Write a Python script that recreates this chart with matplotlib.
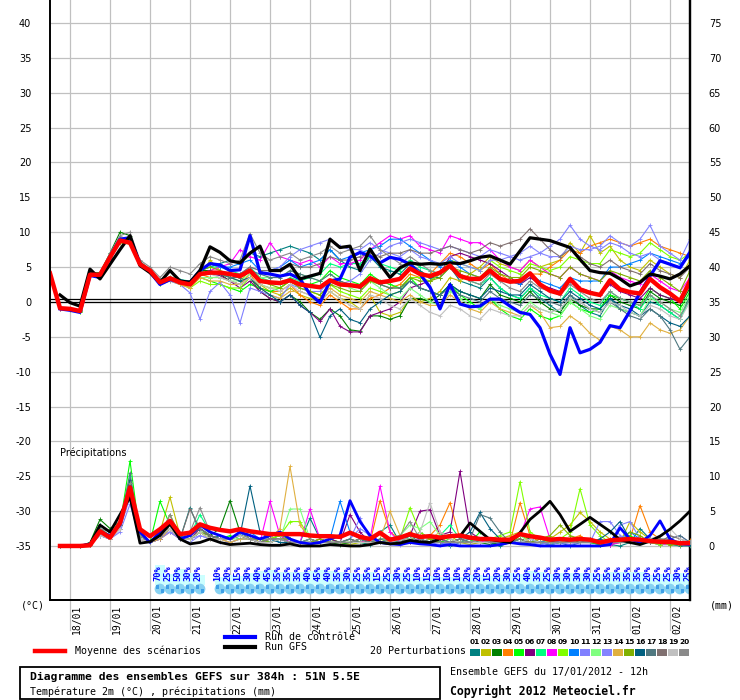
import matplotlib
matplotlib.use('Agg')
import matplotlib.pyplot as plt
from matplotlib.lines import Line2D
from matplotlib.patches import Rectangle
import matplotlib.transforms as mtransforms

nan = float('nan')
W, H = 740, 700

# ---------------- data ----------------
hours = list(range(0, 385, 6))                      # 65 forecast steps (6h)
day_hours = [12 + 24 * k for k in range(16)]        # 00h of each day
day_labels = ['18/01', '19/01', '20/01', '21/01', '22/01', '23/01', '24/01', '25/01',
              '26/01', '27/01', '28/01', '29/01', '30/01', '31/01', '01/02', '02/02']
temp_ticks = [-35, -30, -25, -20, -15, -10, -5, 0, 5, 10, 15, 20, 25, 30, 35, 40]
temp_tick_labels = ['-35', '-30', '-25', '-20', '-15', '-10', '-5', '0', '5', '10',
                    '15', '20', '25', '30', '35', '40']
prcp_ticks = [0, 5, 10, 15, 20, 25, 30, 35, 40, 45, 50, 55, 60, 65, 70, 75]
prcp_tick_labels = ['0', '5', '10', '15', '20', '25', '30', '35', '40', '45',
                    '50', '55', '60', '65', '70', '75']

mean_temp = [4.1, -0.9, -1.0, -1.3, 3.9, 3.9, 6.4, 8.8, 8.5, 5.4,
             4.5, 2.8, 3.4, 2.8, 2.5, 4.0, 4.2, 4.2, 4.0, 3.7,
             4.5, 3.0, 2.8, 2.7, 3.1, 2.5, 2.3, 2.1, 3.1, 2.5,
             2.4, 2.2, 3.4, 2.8, 3.0, 3.3, 4.8, 4.0, 3.7, 4.2,
             5.2, 3.7, 3.3, 3.3, 4.5, 3.3, 2.9, 3.0, 4.1, 2.5,
             1.6, 1.2, 3.3, 1.8, 1.3, 1.0, 3.1, 1.8, 1.4, 1.2,
             3.3, 2.1, 1.2, 0.1, 3.0]
gfs_temp = [nan, 1.0, -0.1, -0.6, 4.7, 3.3, 5.4, 7.5, 9.5, 5.2,
            4.2, 2.8, 4.5, 3.0, 2.8, 4.5, 7.9, 7.1, 5.9, 5.6,
            7.0, 8.0, 4.5, 4.5, 5.4, 3.3, 3.7, 4.1, 9.0, 7.8,
            8.0, 4.5, 7.6, 5.4, 3.5, 4.9, 5.6, 5.4, 5.5, 5.4,
            5.6, 5.5, 5.9, 6.4, 6.6, 6.0, 5.4, 7.3, 9.2, 9.0,
            8.8, 8.3, 7.8, 6.1, 4.5, 4.2, 4.1, 3.3, 2.3, 2.8,
            4.0, 3.7, 3.3, 4.0, 5.2]
ctrl_temp = [nan, -1.0, -1.2, -1.5, 3.8, 3.5, 6.5, 9.0, 9.2, 5.5,
             4.3, 2.5, 3.2, 3.0, 2.8, 4.5, 5.5, 5.3, 4.5, 4.6,
             9.5, 4.2, 4.0, 3.7, 4.0, 3.3, 1.1, -0.1, 3.0, 3.3,
             6.4, 7.1, 6.6, 5.6, 6.4, 6.1, 5.4, 4.0, 2.1, -1.0,
             2.5, -0.3, -0.7, -0.6, 0.4, 0.4, -0.6, -1.5, -1.8, -3.7,
             -7.5, -10.4, -3.7, -7.3, -6.8, -5.8, -3.4, -3.7, -1.3, 1.3,
             3.7, 5.9, 5.4, 4.9, 7.1]

m01_t = [nan, -0.8, -1.0, -1.2, 4.0, 4.0, 6.5, 9.0, 9.0, 5.5, 4.5, 3.0, 3.5, 3.0, 3.0, 4.5, 5.0,
         5.5, 6.0, 5.5, 7.0, 6.5, 7.0, 7.5, 8.0, 7.5, 7.0, 6.0, 7.5, 6.0, 5.0, 4.5, 6.5,
         5.0, 4.5, 4.0, 5.5, 4.5, 3.5, 3.5, 5.0, 3.0, 2.5, 2.0, 3.5, 2.0, 1.0, 0.5, 2.0,
         0.5, -0.5, -1.5, 1.0, -0.5, -1.5, -2.0, 0.5, -1.0, -1.5, -2.0, 0.0, -0.5, -1.5, -2.5, 1.0]
m02_t = [nan, -1.0, -1.1, -1.4, 3.8, 3.8, 6.2, 8.5, 8.3, 5.3, 4.3, 2.5, 3.0, 2.5, 2.0, 3.5, 6.0,
         4.5, 3.5, 3.0, 4.5, 2.5, 1.5, 1.0, 2.0, 1.0, 0.5, 0.0, 1.5, 0.5, 0.0, -1.0, 1.0,
         -1.5, -2.0, -1.5, 0.5, 0.0, 0.5, 1.5, 3.5, 3.0, 4.0, 5.0, 6.5, 5.5, 5.0, 4.5, 6.0,
         5.0, 5.5, 6.0, 8.5, 7.0, 9.5, 7.0, 8.0, 6.0, 5.0, 4.5, 6.0, 5.0, 4.0, 3.5, 6.0]
m03_t = [nan, -0.9, -1.0, -1.3, 4.2, 4.2, 7.0, 10.0, 9.5, 5.8, 4.6, 3.0, 3.5, 3.0, 2.5, 4.5, 4.5,
         4.0, 3.0, 2.5, 3.5, 1.5, 0.5, 0.0, 1.0, 0.0, -1.5, -2.5, -1.0, -2.0, -4.0, -4.2, -2.0,
         -2.0, -2.5, -2.0, 0.5, 0.5, 0.0, 1.0, 2.5, 1.5, 1.0, 0.5, 2.5, 1.0, 0.5, 0.0, 1.5,
         0.0, -1.0, -1.5, 0.5, -0.5, -1.0, -1.0, 1.0, 0.0, -0.5, -1.0, 1.5, 0.5, 0.0, -0.5, 2.0]
m04_t = [nan, -0.9, -0.9, -1.2, 3.9, 3.9, 6.3, 8.7, 8.6, 5.4, 4.5, 2.8, 3.6, 3.0, 2.5, 4.0, 3.5,
         3.5, 3.0, 2.5, 4.0, 2.0, 1.5, 1.5, 2.5, 1.0, 0.0, -0.5, 1.0, 0.0, -1.0, -1.0, 0.5,
         1.0, 2.0, 2.5, 4.0, 3.5, 4.0, 5.5, 7.0, 6.5, 5.5, 4.5, 5.5, 4.0, 3.0, 2.5, 4.0,
         4.0, 5.0, 6.0, 7.5, 7.0, 8.0, 8.5, 9.0, 8.5, 8.0, 8.5, 9.0, 8.0, 7.5, 7.0, 6.5]
m05_t = [nan, -1.0, -1.0, -1.4, 4.0, 4.0, 6.5, 9.0, 8.8, 5.5, 4.4, 2.6, 3.2, 2.6, 2.4, 3.5, 3.0,
         2.5, 2.0, 1.5, 2.5, 2.0, 1.5, 2.0, 3.0, 2.5, 2.5, 3.0, 4.5, 3.5, 3.0, 2.5, 4.0,
         3.0, 2.5, 2.0, 3.5, 2.0, 1.5, 1.0, 2.5, 1.0, 0.0, -1.0, 0.5, -1.0, -2.0, -2.5, -1.0,
         -2.0, -2.5, -2.0, 0.0, -1.0, -1.5, -1.0, 1.0, 0.5, 0.0, -0.5, 2.0, 1.0, 0.5, -1.0, 1.5]
m06_t = [nan, -0.9, -1.0, -1.3, 3.8, 3.8, 6.2, 8.6, 8.4, 5.3, 4.4, 2.7, 3.3, 2.8, 2.6, 4.0, 4.0,
         3.8, 3.0, 2.0, 3.0, 1.5, 0.5, 0.0, 1.0, -0.5, -1.5, -2.8, -1.0, -3.5, -4.3, -4.3, -2.0,
         -1.5, -1.0, 0.0, 2.0, 2.5, 3.0, 4.0, 6.5, 7.0, 6.5, 6.0, 5.5, 4.5, 3.5, 2.5, 3.5,
         2.5, 2.0, 1.5, 3.0, 2.0, 1.5, 1.0, 2.5, 1.5, 1.0, 0.5, 2.0, 1.0, 0.5, 0.0, 2.5]
m07_t = [nan, -0.8, -1.0, -1.2, 4.1, 4.1, 6.6, 9.2, 8.9, 5.5, 4.5, 2.9, 3.6, 3.2, 3.0, 4.5, 5.0,
         5.0, 4.5, 4.0, 5.0, 3.5, 3.0, 2.5, 3.5, 3.0, 3.5, 4.0, 5.5, 5.0, 5.5, 5.5, 6.5,
         5.5, 5.0, 4.5, 6.0, 5.0, 4.5, 4.0, 5.5, 4.0, 3.0, 2.5, 3.5, 2.0, 1.0, 0.5, 2.0,
         1.0, 0.5, 0.0, 2.0, 1.0, 0.0, -0.5, 1.5, 0.5, 0.0, -1.0, 1.0, -0.5, -1.5, -2.5, 0.5]
m08_t = [nan, -1.0, -1.0, -1.3, 3.9, 3.9, 6.4, 8.8, 8.6, 5.4, 4.5, 2.8, 3.4, 2.8, 2.5, 4.0, 4.5,
         5.0, 5.5, 7.5, 6.5, 6.0, 8.5, 6.5, 6.0, 5.5, 6.0, 5.0, 6.5, 5.5, 5.5, 6.0, 7.5,
         8.5, 9.5, 9.0, 9.5, 8.0, 7.5, 7.0, 9.5, 9.0, 8.5, 8.5, 7.5, 6.0, 5.0, 4.5, 6.0,
         5.0, 4.0, 3.5, 5.0, 4.0, 3.5, 3.0, 4.5, 3.5, 3.0, 2.5, 4.0, 3.0, 2.0, 1.5, 3.5]
m09_t = [nan, -0.9, -1.0, -1.3, 3.9, 3.9, 6.5, 9.0, 8.7, 5.4, 4.5, 2.8, 3.4, 2.8, 2.0, 3.0, 2.5,
         2.5, 2.0, 2.0, 3.5, 2.5, 2.0, 2.0, 3.0, 2.0, 1.5, 1.0, 2.5, 1.5, 1.0, 0.5, 2.0,
         1.5, 1.0, 1.5, 3.5, 3.5, 3.0, 4.0, 6.0, 5.5, 5.0, 4.5, 6.0, 5.0, 4.5, 4.0, 5.5,
         5.0, 4.5, 5.0, 6.5, 6.0, 5.5, 5.5, 7.5, 7.0, 6.5, 7.0, 8.5, 7.5, 6.5, 6.0, 7.0]
m10_t = [nan, -0.9, -1.0, -1.3, 3.9, 3.9, 6.4, 8.8, 8.5, 5.4, 4.5, 2.8, 3.4, 2.8, 2.8, 4.5, 5.5,
         5.0, 5.0, 5.5, 6.0, 4.5, 4.5, 5.0, 6.0, 5.0, 5.5, 6.0, 7.5, 6.0, 6.5, 7.0, 7.5,
         8.0, 9.0, 9.0, 8.0, 7.0, 6.0, 5.0, 6.0, 5.0, 4.0, 3.5, 4.5, 3.5, 3.0, 2.5, 4.0,
         3.0, 2.5, 2.0, 3.5, 3.0, 3.0, 3.0, 5.0, 5.0, 5.5, 6.0, 7.0, 6.5, 6.0, 5.5, 6.5]
m11_t = [nan, -0.9, -1.0, -1.3, 3.9, 3.9, 6.3, 8.8, 8.5, 5.3, 4.4, 2.7, 3.0, 2.5, 1.3, -2.5, 1.5,
         2.8, 1.0, -3.0, 2.0, 1.5, 1.0, 0.5, 2.5, 2.0, 1.5, 1.5, 3.0, 2.5, 3.0, 4.0, 6.0,
         7.0, 8.0, 8.5, 9.0, 8.5, 8.0, 7.5, 8.0, 7.5, 7.0, 6.5, 7.5, 7.0, 6.5, 6.0, 6.5,
         7.0, 8.0, 9.0, 11.0, 9.0, 8.0, 7.5, 8.5, 8.0, 7.0, 6.5, 7.0, 6.0, 5.5, 5.0, 7.5]
m12_t = [nan, -0.9, -1.0, -1.3, 3.9, 3.9, 6.4, 8.8, 8.5, 5.4, 4.5, 2.8, 3.4, 2.8, 2.5, 3.5, 3.5,
         3.5, 3.0, 3.0, 4.0, 3.5, 3.5, 3.5, 4.5, 4.0, 3.5, 3.0, 4.0, 3.0, 2.0, 1.5, 3.0,
         2.0, 1.0, 0.5, 2.0, 1.0, 0.0, -0.5, 1.5, 0.5, -0.5, -1.0, 0.5, -0.5, -1.0, -1.5, 0.0,
         -1.0, -1.5, -2.0, 0.0, -1.0, -2.0, -2.5, -0.5, -1.0, -1.5, -2.0, 0.5, 0.0, -1.0, -1.5, 1.0]
m13_t = [nan, -0.9, -1.0, -1.3, 3.9, 3.9, 6.4, 8.8, 8.5, 5.4, 4.5, 2.8, 3.4, 2.8, 2.5, 4.0, 4.2,
         4.2, 4.0, 4.0, 5.0, 4.5, 4.5, 5.0, 6.5, 7.5, 8.0, 8.5, 9.0, 8.0, 7.5, 7.5, 8.5,
         7.5, 7.0, 6.5, 7.5, 6.5, 6.0, 5.5, 6.5, 5.5, 5.0, 4.5, 6.0, 6.0, 6.5, 7.0, 8.0,
         7.0, 6.5, 6.5, 8.0, 7.5, 7.5, 8.0, 9.5, 8.5, 8.0, 9.0, 11.0, 8.0, 7.0, 6.0, 9.0]
m14_t = [nan, -0.9, -1.0, -1.3, 3.9, 3.9, 6.4, 8.8, 8.5, 5.4, 4.5, 2.8, 3.2, 2.5, 2.0, 3.5, 3.0,
         3.0, 2.5, 2.5, 3.5, 2.0, 1.0, 0.5, 1.5, 1.5, 1.0, 0.5, 2.0, 1.0, 0.5, 0.0, 1.5,
         1.0, 0.5, 0.0, 1.0, 0.0, -0.5, -0.5, 1.0, 0.0, -1.0, -1.5, 0.0, -1.0, -1.5, -2.0, -0.5,
         -1.5, -3.7, -3.5, -2.0, -3.0, -4.5, -5.5, -3.5, -4.0, -5.0, -5.0, -3.0, -4.0, -4.5, -4.0, -2.0]
m15_t = [nan, -0.9, -1.0, -1.3, 3.9, 3.9, 6.4, 8.8, 8.5, 5.4, 4.5, 2.8, 3.4, 3.0, 3.0, 4.5, 5.0,
         4.5, 4.0, 3.5, 4.5, 3.0, 2.5, 2.0, 3.0, 2.0, 1.5, 1.0, 2.5, 2.0, 1.5, 1.5, 3.0,
         2.5, 2.0, 2.0, 3.5, 3.0, 3.0, 3.5, 5.0, 4.5, 4.0, 3.5, 5.0, 4.0, 3.5, 3.5, 5.0,
         4.5, 4.0, 3.5, 5.0, 4.0, 3.5, 3.0, 4.5, 4.0, 3.5, 3.0, 4.5, 3.5, 2.5, 1.5, 4.5]
m16_t = [nan, -0.9, -1.0, -1.3, 3.9, 3.9, 6.4, 8.8, 8.5, 5.4, 4.5, 2.8, 3.4, 2.8, 2.5, 4.0, 4.5,
         4.0, 3.5, 3.0, 3.5, 2.0, 1.0, 0.0, 1.0, -0.5, -1.5, -5.1, -2.0, -1.0, -2.5, -3.0, -1.0,
         0.0, 1.0, 1.5, 3.0, 2.0, 1.5, 1.0, 2.5, 1.5, 1.0, 0.5, 2.0, 1.5, 1.0, 1.0, 2.5,
         1.5, 0.5, 0.0, 1.5, 0.5, -0.5, -1.0, 0.5, -0.5, -1.0, -2.0, -1.0, -2.0, -3.0, -3.5, -2.0]
m17_t = [nan, -0.9, -1.0, -1.3, 3.9, 3.9, 6.4, 8.8, 8.5, 5.4, 4.5, 2.8, 3.4, 2.8, 2.5, 4.0, 4.0,
         4.0, 3.5, 3.5, 4.5, 4.0, 3.5, 3.5, 4.5, 4.0, 3.5, 3.0, 4.0, 3.0, 2.5, 2.0, 3.5,
         2.5, 2.0, 2.0, 3.0, 2.0, 1.5, 1.0, 2.0, 1.0, 0.5, 0.0, 1.5, 0.5, 0.0, -0.5, 1.0,
         0.5, 0.0, -0.5, 1.0, 0.0, -1.0, -1.5, 0.0, -1.0, -2.0, -2.5, -1.0, -2.0, -4.0, -6.8, -5.0]
m18_t = [nan, -0.9, -1.0, -1.3, 3.9, 3.9, 6.4, 8.8, 8.5, 5.4, 4.5, 2.8, 3.4, 2.8, 2.5, 4.0, 4.0,
         4.0, 4.0, 4.0, 5.0, 4.5, 4.5, 4.5, 5.5, 5.0, 5.0, 5.5, 6.5, 6.0, 6.0, 6.5, 7.0,
         6.5, 7.0, 7.0, 7.5, 7.0, 7.0, 7.5, 8.0, 7.5, 7.0, 7.5, 8.5, 8.0, 8.5, 9.0, 10.5,
         9.0, 7.5, 6.5, 7.5, 6.5, 5.5, 5.0, 6.0, 5.0, 4.5, 4.0, 5.5, 4.5, 4.0, 3.5, 5.0]
m19_t = [nan, -0.9, -1.0, -1.3, 3.9, 3.9, 6.4, 9.0, 9.0, 5.6, 4.6, 3.0, 3.6, 3.0, 2.5, 4.0, 4.0,
         3.5, 3.0, 2.5, 3.5, 2.5, 2.0, 1.5, 2.5, 1.5, 1.0, 0.0, 1.5, 0.5, -0.5, -1.0, 1.0,
         0.5, -0.5, -1.0, 0.5, -0.5, -1.5, -2.0, -0.5, -1.0, -2.0, -2.5, -1.0, -1.5, -2.0, -2.0, -0.5,
         -1.0, -1.5, -1.0, 0.5, 0.0, -1.0, -1.5, 0.0, -0.5, -1.5, -2.0, -0.5, -1.0, -2.0, -2.5, 0.0]
m20_t = [nan, -0.9, -1.0, -1.3, 3.9, 4.0, 7.0, 9.5, 10.0, 6.0, 5.0, 3.5, 5.0, 4.5, 4.0, 5.5, 6.5,
         6.0, 5.5, 6.0, 9.8, 7.0, 6.0, 6.5, 7.0, 6.0, 6.5, 7.0, 8.0, 7.0, 7.5, 8.0, 9.5,
         7.5, 6.5, 5.5, 6.5, 5.5, 4.5, 4.0, 5.0, 4.0, 3.0, 2.5, 4.0, 3.0, 2.0, 1.5, 3.0,
         2.0, 1.5, 1.0, 2.5, 1.5, 0.5, 0.0, 1.5, 0.5, 0.0, -0.5, 1.0, 0.0, -1.0, -2.0, 0.5]

mean_prcp = [nan, 0, 0, 0, 0.1, 2.1, 1.2, 3.3, 8.4, 2.4, 1.4, 2.4, 3.6, 1.7, 1.9, 3.1, 2.6,
             2.3, 2.1, 2.4, 2.1, 1.9, 1.7, 1.7, 1.7, 1.7, 1.5, 1.4, 1.4, 1.3, 1.9, 1.3, 1.0,
             1.9, 0.9, 1.2, 1.7, 1.3, 1.4, 1.2, 1.4, 1.5, 1.2, 1.0, 1.0, 0.9, 0.9, 1.7, 1.4,
             1.2, 0.9, 1.0, 0.9, 1.0, 0.9, 0.5, 0.8, 0.9, 1.0, 0.9, 0.7, 0.6, 0.6, 0.4, 0.4]
gfs_prcp = [nan, 0, 0, 0, 0.2, 3.0, 2.0, 4.5, 7.0, 0.4, 0.6, 1.5, 3.2, 1.0, 0.3, 0.5, 1.0,
            0.5, 0.2, 0.3, 0.4, 0.2, 0.1, 0.1, 0.3, 0.0, 0.0, 0.0, 0.2, 0.1, 0.0, 0.0, 0.2,
            0.5, 0.3, 0.4, 0.8, 0.6, 0.5, 1.0, 1.5, 1.4, 3.3, 2.1, 0.9, 0.7, 0.5, 1.9, 3.8,
            5.0, 6.4, 4.5, 2.1, 3.1, 4.1, 3.1, 2.1, 0.9, 0.5, 0.2, 0.7, 1.4, 2.4, 3.6, 5.0]
ctrl_prcp = [nan, 0, 0, 0, 0.3, 2.0, 1.5, 3.0, 8.5, 2.0, 0.5, 2.0, 3.5, 1.0, 1.5, 3.0, 2.0,
             1.5, 1.0, 2.0, 1.5, 1.0, 1.5, 2.0, 1.0, 0.5, 0.3, 0.5, 1.0, 1.5, 6.5, 3.5, 1.5,
             0.5, 0.3, 0.2, 0.5, 0.3, 0.2, 0.0, 0.2, 0.0, 0.0, 0.0, 0.0, 0.2, 0.5, 0.3, 0.2,
             0.0, 0.0, 0.0, 0.0, 0.0, 0.0, 0.0, 0.2, 2.6, 1.0, 0.5, 1.5, 3.6, 1.0, 0.3, 0.2]

m01_p = [nan, 0, 0, 0, 0.3, 2.5, 1.5, 3.5, 9.0, 1.5, 0.5, 1.0, 2.5, 1.0, 5.5, 2.0, 1.0,
         1.5, 1.0, 2.0, 1.0, 0.5, 1.0, 1.5, 0.5, 0.5, 4.0, 1.0, 0.5, 0.5, 1.0, 0.5, 0.2,
         2.0, 3.0, 0.5, 0.5, 1.0, 1.5, 0.5, 0.0, 0.5, 1.0, 0.5, 0.5, 0.0, 0.5, 1.0, 0.5,
         0.5, 1.0, 0.5, 0.0, 0.5, 0.5, 1.0, 0.2, 0.0, 0.5, 2.5, 1.0, 0.5, 0.2, 0.0, 0.0]
m02_p = [nan, 0, 0, 0, 0.2, 1.5, 1.0, 2.5, 7.5, 1.0, 0.5, 2.0, 7.0, 1.5, 1.0, 2.0, 1.5,
         1.0, 0.5, 1.0, 1.5, 0.5, 0.5, 1.0, 1.0, 0.5, 0.2, 0.5, 1.0, 0.5, 0.2, 0.5, 0.5,
         1.0, 0.5, 1.0, 2.0, 1.0, 0.5, 0.5, 1.5, 0.5, 0.2, 0.5, 0.5, 1.0, 1.5, 2.0, 0.5,
         0.5, 1.0, 2.0, 3.0, 4.8, 3.5, 2.0, 1.0, 0.5, 3.5, 2.0, 1.0, 0.5, 0.5, 0.2, 0.5]
m03_p = [nan, 0, 0, 0, 0.5, 3.8, 2.5, 3.5, 7.0, 1.5, 0.5, 1.5, 2.5, 1.0, 1.5, 2.5, 1.5,
         2.5, 6.5, 2.0, 1.0, 1.0, 0.5, 1.0, 0.5, 0.5, 0.5, 1.0, 0.5, 0.2, 0.5, 1.0, 0.5,
         0.5, 1.0, 1.5, 1.0, 2.0, 1.0, 0.5, 0.5, 1.0, 0.5, 0.5, 0.2, 0.5, 0.5, 1.5, 1.0,
         0.5, 0.2, 0.5, 1.0, 0.5, 0.5, 0.2, 0.5, 1.0, 0.5, 0.5, 1.0, 0.5, 0.2, 0.5, 0.2]
m04_p = [nan, 0, 0, 0, 0.2, 2.0, 1.0, 3.0, 8.0, 1.0, 0.5, 1.0, 2.0, 1.0, 1.0, 2.0, 1.5,
         1.0, 1.0, 1.5, 1.0, 0.5, 1.0, 1.0, 0.5, 0.5, 0.5, 1.0, 0.5, 0.5, 0.5, 1.0, 0.5,
         6.5, 2.0, 1.0, 0.5, 1.0, 1.5, 3.0, 6.2, 1.0, 0.5, 0.5, 0.5, 1.0, 0.5, 6.2, 1.5,
         0.5, 0.5, 0.5, 1.0, 1.5, 0.5, 0.5, 1.0, 0.5, 1.0, 5.8, 2.0, 1.0, 0.5, 0.5, 0.8]
m05_p = [nan, 0, 0, 0, 0.3, 2.5, 1.0, 3.0, 12.2, 1.5, 0.5, 6.4, 3.0, 1.0, 1.0, 2.0, 1.5,
         1.0, 1.5, 1.0, 1.0, 0.5, 1.0, 1.5, 1.0, 0.5, 0.5, 0.5, 1.0, 0.5, 0.5, 0.5, 0.5,
         0.5, 1.0, 0.5, 0.5, 1.0, 0.5, 0.5, 1.0, 0.5, 0.5, 2.0, 1.0, 0.5, 0.5, 1.0, 0.5,
         0.5, 0.2, 0.5, 0.5, 1.0, 0.5, 0.2, 0.5, 1.0, 1.5, 0.5, 0.5, 0.2, 0.5, 0.2, 0.2]
m06_p = [nan, 0, 0, 0, 0.2, 2.0, 1.5, 3.0, 8.5, 1.0, 0.5, 1.0, 3.0, 1.0, 1.0, 2.5, 1.5,
         1.0, 1.0, 1.5, 1.0, 0.5, 1.0, 1.0, 0.5, 0.5, 0.5, 0.5, 1.0, 0.5, 4.5, 2.0, 0.5,
         0.5, 0.5, 1.0, 1.5, 5.0, 5.2, 1.5, 2.0, 10.7, 2.0, 1.0, 0.5, 0.5, 0.5, 1.0, 0.5,
         0.5, 0.5, 1.0, 0.5, 0.5, 0.5, 0.5, 0.2, 0.5, 0.5, 1.0, 0.5, 0.5, 0.2, 0.5, 0.2]
m07_p = [nan, 0, 0, 0, 0.3, 3.0, 2.0, 3.5, 10.0, 1.5, 0.5, 1.5, 3.0, 1.0, 1.5, 4.5, 2.0,
         1.5, 1.0, 1.5, 1.0, 1.0, 0.5, 1.0, 1.0, 0.5, 1.0, 0.5, 0.5, 0.5, 0.5, 1.0, 0.5,
         0.5, 1.0, 1.5, 1.0, 0.5, 1.0, 1.5, 3.0, 1.0, 0.5, 0.5, 0.5, 0.5, 0.5, 1.0, 0.5,
         0.5, 0.5, 1.0, 0.5, 0.5, 1.0, 0.5, 0.5, 1.0, 0.5, 0.5, 0.5, 0.2, 0.2, 0.5, 0.2]
m08_p = [nan, 0, 0, 0, 0.2, 2.0, 1.0, 2.5, 8.0, 1.0, 0.5, 1.0, 2.5, 1.0, 1.0, 2.0, 1.5,
         1.0, 1.0, 1.5, 1.0, 0.5, 6.4, 1.5, 0.5, 0.5, 5.3, 1.0, 0.5, 0.5, 1.0, 0.5, 1.0,
         8.6, 2.0, 0.5, 0.5, 1.0, 0.5, 1.0, 0.5, 0.5, 0.5, 0.5, 1.0, 0.5, 1.0, 1.5, 5.3,
         5.6, 1.0, 0.5, 0.5, 0.5, 0.5, 0.5, 0.2, 0.5, 1.0, 0.5, 0.5, 0.2, 0.2, 0.5, 0.2]
m09_p = [nan, 0, 0, 0, 0.3, 2.0, 1.0, 3.0, 9.0, 1.0, 0.5, 1.5, 2.5, 1.0, 1.0, 2.0, 1.0,
         1.0, 1.0, 1.5, 1.0, 0.5, 1.0, 1.5, 3.5, 3.5, 1.0, 0.5, 0.5, 0.5, 0.5, 0.5, 0.5,
         0.5, 1.0, 1.0, 5.5, 2.0, 1.0, 0.5, 0.5, 0.5, 0.5, 1.0, 1.0, 1.5, 2.0, 9.2, 2.0,
         1.0, 0.5, 1.0, 2.0, 8.2, 3.0, 1.5, 0.5, 0.5, 0.5, 0.5, 0.5, 0.2, 0.5, 0.2, 0.2]
m10_p = [nan, 0, 0, 0, 0.2, 1.5, 1.0, 2.5, 7.5, 1.0, 0.5, 1.0, 2.5, 1.5, 1.0, 2.0, 1.5,
         1.0, 1.0, 1.5, 2.0, 1.0, 1.0, 0.5, 0.5, 0.5, 0.5, 0.5, 1.0, 6.4, 2.0, 1.0, 0.5,
         0.5, 0.5, 1.0, 0.5, 0.5, 1.0, 0.5, 0.5, 1.0, 0.5, 1.0, 0.5, 0.5, 0.5, 0.5, 1.0,
         0.5, 1.0, 0.5, 0.5, 0.5, 0.5, 0.5, 0.5, 1.0, 2.0, 1.0, 0.5, 0.5, 0.5, 0.2, 0.2]
m11_p = [nan, 0, 0, 0, 0.2, 1.5, 1.0, 2.0, 6.0, 1.0, 0.5, 1.0, 2.0, 1.0, 0.5, 1.5, 1.0,
         0.5, 0.5, 1.0, 1.0, 0.5, 0.5, 1.0, 0.5, 0.5, 0.5, 0.5, 0.5, 0.5, 1.0, 4.0, 1.0,
         0.5, 0.5, 0.2, 0.5, 0.5, 0.5, 0.5, 0.2, 0.5, 0.5, 0.5, 0.5, 0.5, 0.5, 0.5, 0.5,
         0.5, 0.2, 0.5, 0.5, 1.0, 0.5, 3.5, 3.5, 1.5, 1.0, 0.5, 0.5, 0.5, 1.0, 1.5, 0.5]
m12_p = [nan, 0, 0, 0, 0.3, 2.5, 1.5, 3.0, 8.5, 1.5, 0.5, 1.5, 3.0, 1.0, 1.0, 2.0, 2.0,
         1.5, 1.0, 1.0, 1.0, 0.5, 1.0, 1.0, 5.3, 5.3, 1.0, 0.5, 0.5, 0.5, 0.5, 0.5, 0.5,
         1.0, 1.0, 1.5, 3.0, 2.5, 3.5, 1.5, 1.0, 0.5, 0.5, 1.0, 0.5, 0.5, 1.0, 1.5, 0.5,
         0.5, 0.5, 0.5, 0.5, 0.5, 0.5, 1.0, 0.5, 0.5, 0.5, 0.5, 0.5, 0.5, 0.2, 0.2, 0.2]
m13_p = [nan, 0, 0, 0, 0.2, 1.5, 1.0, 2.5, 7.0, 1.0, 0.5, 1.5, 2.0, 1.0, 1.0, 1.5, 1.0,
         1.0, 0.5, 1.0, 1.0, 0.5, 0.5, 1.0, 0.5, 0.5, 0.5, 0.5, 0.5, 0.5, 1.0, 2.5, 1.5,
         0.5, 0.5, 1.0, 0.5, 0.5, 0.5, 0.2, 0.5, 0.5, 0.5, 1.0, 0.5, 0.5, 0.5, 0.5, 0.5,
         0.2, 0.5, 0.5, 0.2, 0.5, 0.5, 1.0, 0.5, 3.0, 3.5, 1.0, 0.5, 0.5, 0.5, 0.2, 0.2]
m14_p = [nan, 0, 0, 0, 0.2, 2.0, 1.0, 2.5, 8.0, 1.0, 0.5, 1.0, 2.5, 1.0, 1.0, 2.0, 1.0,
         1.0, 0.5, 1.0, 1.0, 0.5, 1.0, 2.5, 11.4, 3.0, 1.0, 0.5, 0.5, 0.5, 0.5, 0.5, 0.5,
         1.0, 5.0, 1.5, 0.5, 0.5, 1.0, 2.0, 1.0, 0.5, 0.5, 0.5, 0.5, 1.0, 0.5, 2.0, 0.5,
         0.5, 0.5, 0.5, 0.5, 0.5, 0.5, 0.5, 0.5, 0.5, 0.5, 1.0, 0.5, 0.5, 0.2, 0.2, 0.2]
m15_p = [nan, 0, 0, 0, 0.2, 2.0, 1.5, 3.0, 9.5, 1.5, 0.5, 1.5, 4.5, 1.5, 1.0, 2.0, 1.5,
         1.0, 1.0, 1.5, 1.0, 1.0, 0.5, 1.0, 1.0, 0.5, 0.5, 1.0, 0.5, 0.5, 1.0, 0.5, 0.5,
         0.5, 0.5, 0.5, 1.0, 1.5, 1.0, 0.5, 0.5, 0.5, 0.5, 0.5, 0.5, 0.5, 1.0, 1.0, 0.5,
         1.0, 1.5, 3.0, 1.5, 1.0, 1.0, 0.5, 0.5, 0.5, 2.0, 1.5, 0.5, 0.5, 0.2, 0.2, 0.2]
m16_p = [nan, 0, 0, 0, 0.3, 3.0, 2.0, 3.0, 9.5, 1.5, 0.5, 1.5, 3.0, 1.5, 2.0, 2.5, 1.5,
         1.0, 1.0, 1.5, 8.6, 2.0, 1.0, 0.5, 0.5, 0.5, 1.0, 0.5, 0.5, 0.5, 0.5, 1.0, 0.5,
         0.5, 1.0, 1.0, 1.5, 1.0, 0.5, 0.5, 0.5, 1.0, 2.0, 4.8, 2.5, 1.0, 0.5, 0.5, 0.5,
         0.5, 0.5, 1.0, 0.5, 0.5, 0.5, 1.0, 2.0, 3.5, 1.0, 0.5, 0.5, 0.5, 0.5, 0.5, 0.2]
m17_p = [nan, 0, 0, 0, 0.3, 2.5, 1.5, 3.0, 10.5, 1.5, 0.5, 1.5, 3.0, 1.0, 1.5, 2.5, 1.5,
         1.0, 1.0, 1.5, 1.0, 0.5, 1.0, 1.0, 0.5, 0.5, 0.5, 0.5, 0.5, 0.5, 1.0, 0.5, 0.5,
         1.0, 1.0, 0.5, 1.5, 0.5, 0.5, 1.0, 0.5, 1.0, 1.0, 4.5, 4.0, 2.0, 0.5, 0.5, 0.5,
         0.5, 0.5, 0.5, 0.5, 0.5, 1.0, 0.5, 0.5, 1.0, 0.5, 0.5, 0.5, 1.0, 1.0, 1.5, 0.5]
m18_p = [nan, 0, 0, 0, 0.2, 2.0, 1.5, 3.0, 9.0, 1.5, 0.5, 1.5, 3.0, 1.0, 5.3, 2.5, 1.5,
         1.0, 1.0, 1.5, 1.0, 0.5, 1.0, 1.0, 0.5, 0.5, 0.5, 0.5, 0.5, 0.5, 0.5, 1.0, 0.5,
         0.5, 0.5, 1.0, 0.5, 0.5, 0.5, 0.5, 0.5, 1.0, 0.5, 0.5, 0.5, 0.5, 0.5, 1.0, 0.5,
         0.5, 0.5, 0.5, 0.5, 0.5, 0.5, 0.5, 0.5, 0.5, 0.5, 0.5, 0.5, 0.5, 1.5, 1.0, 0.5]
m19_p = [nan, 0, 0, 0, 0.2, 1.5, 1.0, 2.5, 8.0, 1.0, 0.5, 1.5, 2.5, 1.0, 1.0, 2.0, 1.0,
         1.0, 1.0, 1.5, 1.0, 0.5, 0.5, 1.0, 0.5, 0.5, 0.5, 0.5, 0.5, 0.5, 0.5, 0.5, 0.5,
         0.5, 0.5, 1.0, 1.0, 2.0, 6.2, 2.0, 1.0, 0.5, 0.5, 0.5, 0.5, 1.0, 0.5, 0.5, 1.0,
         0.5, 0.5, 0.5, 0.5, 0.5, 0.5, 0.5, 0.5, 0.5, 0.5, 1.0, 1.0, 1.5, 2.5, 1.0, 0.5]
m20_p = [nan, 0, 0, 0, 0.3, 2.5, 2.0, 3.0, 9.0, 1.5, 0.5, 1.5, 4.5, 1.0, 2.0, 5.5, 2.0,
         1.5, 1.0, 2.0, 1.0, 1.0, 1.0, 1.0, 0.5, 0.5, 1.0, 0.5, 0.5, 0.5, 0.5, 1.0, 1.0,
         0.5, 1.0, 1.5, 3.5, 1.0, 0.5, 0.5, 0.5, 0.5, 0.5, 1.0, 0.5, 0.5, 0.5, 0.5, 0.5,
         0.5, 0.5, 0.5, 0.5, 0.5, 0.5, 0.5, 0.5, 0.5, 0.5, 0.5, 0.5, 1.0, 0.5, 0.5, 0.5]

# probability labels (%) per 6h step; 0 = no label
prob_pct = [0, 0, 0, 0, 0, 0, 0, 0, 0, 0, 0,
            70, 25, 50, 30, 20, 0,
            10, 20, 15, 30, 40, 45, 35, 35, 35, 40, 45, 40, 35, 30, 25, 35, 15, 25, 30, 25, 10,
            15, 10, 10, 10, 20, 20, 15, 20, 30, 25, 40, 35, 25, 30, 30, 30, 30, 25, 35, 35, 35, 35,
            20, 25, 25, 30, 25]

member_names = ['01', '02', '03', '04', '05', '06', '07', '08', '09', '10',
                '11', '12', '13', '14', '15', '16', '17', '18', '19', '20']
member_colors = ['#008080', '#c0c000', '#008000', '#ff8000', '#00ff00', '#800080', '#00ff80',
                 '#ff00ff', '#80ff00', '#0080ff', '#8080ff', '#80ff80', '#8484ff', '#e0b040',
                 '#80b000', '#006080', '#507880', '#807070', '#c0c0c0', '#8a8a8a']
pert_temp = [m01_t, m02_t, m03_t, m04_t, m05_t, m06_t, m07_t, m08_t, m09_t, m10_t,
             m11_t, m12_t, m13_t, m14_t, m15_t, m16_t, m17_t, m18_t, m19_t, m20_t]
pert_prcp = [m01_p, m02_p, m03_p, m04_p, m05_p, m06_p, m07_p, m08_p, m09_p, m10_p,
             m11_p, m12_p, m13_p, m14_p, m15_p, m16_p, m17_p, m18_p, m19_p, m20_p]

# ---------------- figure ----------------
MONO = 'DejaVu Sans Mono'
fig = plt.figure(figsize=(W / 100, H / 100), dpi=100)
fig.patch.set_facecolor('white')
ax = fig.add_axes([50 / W, 100 / H, 640 / W, 600 / H])
YLO, YHI = -42.75, 43.3
PX = 6.973  # pixels per degree
ax.set_xlim(0, 384)
ax.set_ylim(YLO, YHI)
ax2 = ax.twinx()
ax2.set_ylim(YLO + 35, YHI + 35)
ax2.set_xlim(0, 384)

ax.set_axisbelow(True)
ax.set_yticks(temp_ticks)
ax.set_yticklabels(temp_tick_labels)
ax.set_xticks(day_hours)
ax.set_xticklabels(day_labels, rotation=90, va='top', ha='center', family=MONO, fontsize=7)
ax.grid(True, color='#c0c0c0', lw=0.9)
ax.tick_params(axis='both', length=0, labelsize=7)
ax.tick_params(axis='y', pad=13.5)
ax.tick_params(axis='x', pad=3)
off = mtransforms.ScaledTranslation(7 / 100, 0, fig.dpi_scale_trans)
for lab in ax.get_xticklabels():
    lab.set_transform(lab.get_transform() + off)
ax2.set_yticks(prcp_ticks)
ax2.set_yticklabels(prcp_tick_labels)
ax2.tick_params(axis='y', length=0, labelsize=7, pad=13.5)

for a in (ax, ax2):
    a.spines['top'].set_visible(False)
    a.spines['left'].set_linewidth(1.2)
    a.spines['right'].set_linewidth(1.6)
    a.spines['bottom'].set_linewidth(1.4)

# grid lines continuing below the axis
for h in day_hours:
    ax.plot([h, h], [YLO, YLO - 30 / PX], color='#c0c0c0', lw=0.9, clip_on=False, zorder=0.5)

# zero line (double)
ax.axhline(0.35, color='black', lw=0.9, zorder=2)
ax.axhline(0.05, color='black', lw=0.9, zorder=2)

# temperature spaghetti
for vals, c in zip(pert_temp, member_colors):
    ax.plot(hours, vals, color=c, lw=0.8, marker='+', ms=3, mew=0.6, zorder=3)
ax.plot(hours, ctrl_temp, color='#0000ff', lw=2.3, zorder=4)
ax.plot(hours, gfs_temp, color='black', lw=2.3, zorder=5)
ax.plot(hours, mean_temp, color='#ff0000', lw=3.2, zorder=6)

# precipitation spaghetti (right scale)
for vals, c in zip(pert_prcp, member_colors):
    ax2.plot(hours, vals, color=c, lw=0.8, marker='+', ms=3, mew=0.6, zorder=3)
ax2.plot(hours, ctrl_prcp, color='#0000ff', lw=2.0, zorder=4)
ax2.plot(hours, gfs_prcp, color='black', lw=2.0, zorder=5)
ax2.plot(hours, mean_prcp, color='#ff0000', lw=3.2, zorder=6)
ax2.text(6, (301.9 - 453) / PX + 35, 'Précipitations', fontsize=7, ha='left', va='center')

# probability strip
bar_bottom = (301.9 - 585) / PX
for h, p in zip(hours, prob_pct):
    if p <= 0:
        continue
    ax.bar(h, (6 + 0.2 * p) / PX, width=6, bottom=bar_bottom, color='#ccffff',
           edgecolor='none', zorder=1)
    ax.text(h - 1.4, (301.9 - 573) / PX, f'{p}%', rotation=90, color='#0000ff',
            fontsize=6.3, family=MONO, weight='bold', ha='center', va='center', zorder=3)
    ax.scatter([h], [(301.9 - 589) / PX], s=60, marker='o', color='#88d2f2',
               edgecolors='none', zorder=2)
    ax.scatter([h - 1.5, h + 1.5], [(301.9 - 587) / PX, (301.9 - 591) / PX], s=5,
               marker='s', color='#40a0e8', edgecolors='none', zorder=2.5)

# ---------------- bottom legend & captions ----------------
def fx(x):
    return x / W


def fy(y):
    return 1 - y / H


fig.text(fx(33), fy(606), '(°C)', family=MONO, fontsize=7.2, ha='center', va='center')
fig.text(fx(722), fy(606), '(mm)', family=MONO, fontsize=7.2, ha='center', va='center')

fig.add_artist(Line2D([fx(35), fx(65)], [fy(651), fy(651)], color='#ff0000', lw=3.2))
fig.text(fx(75), fy(651), 'Moyenne des scénarios', family=MONO, fontsize=7.2, va='center')
fig.add_artist(Line2D([fx(225), fx(255)], [fy(637), fy(637)], color='#0000ff', lw=3.0))
fig.text(fx(265), fy(637), 'Run de contrôle', family=MONO, fontsize=7.2, va='center')
fig.add_artist(Line2D([fx(225), fx(255)], [fy(647), fy(647)], color='black', lw=3.0))
fig.text(fx(265), fy(647), 'Run GFS', family=MONO, fontsize=7.2, va='center')
fig.text(fx(370), fy(651), '20 Perturbations', family=MONO, fontsize=7.2, va='center')
for k, (name, c) in enumerate(zip(member_names, member_colors)):
    x0 = 470 + 11 * k
    fig.add_artist(Rectangle((fx(x0), fy(656)), 10 / W, 7 / H, transform=fig.transFigure,
                             color=c, lw=0))
    fig.text(fx(x0 + 5), fy(642), name, fontsize=5.3, ha='center', va='center',
             weight='bold')

fig.add_artist(Rectangle((fx(20), fy(699)), 420 / W, 32 / H, transform=fig.transFigure,
                         fill=False, ec='black', lw=1.3))
fig.text(fx(30), fy(677), 'Diagramme des ensembles GEFS sur 384h : 51N 5.5E',
         family=MONO, fontsize=8.2, weight='bold', va='center')
fig.text(fx(30), fy(692), 'Température 2m (°C) , précipitations (mm)',
         family=MONO, fontsize=7.2, va='center')
fig.text(fx(450), fy(672), 'Ensemble GEFS du 17/01/2012 - 12h',
         family=MONO, fontsize=7.2, va='center')
fig.text(fx(450), fy(691), 'Copyright 2012 Meteociel.fr',
         family=MONO, fontsize=8.3, weight='bold', va='center')

fig.savefig('out.png', dpi=100)
